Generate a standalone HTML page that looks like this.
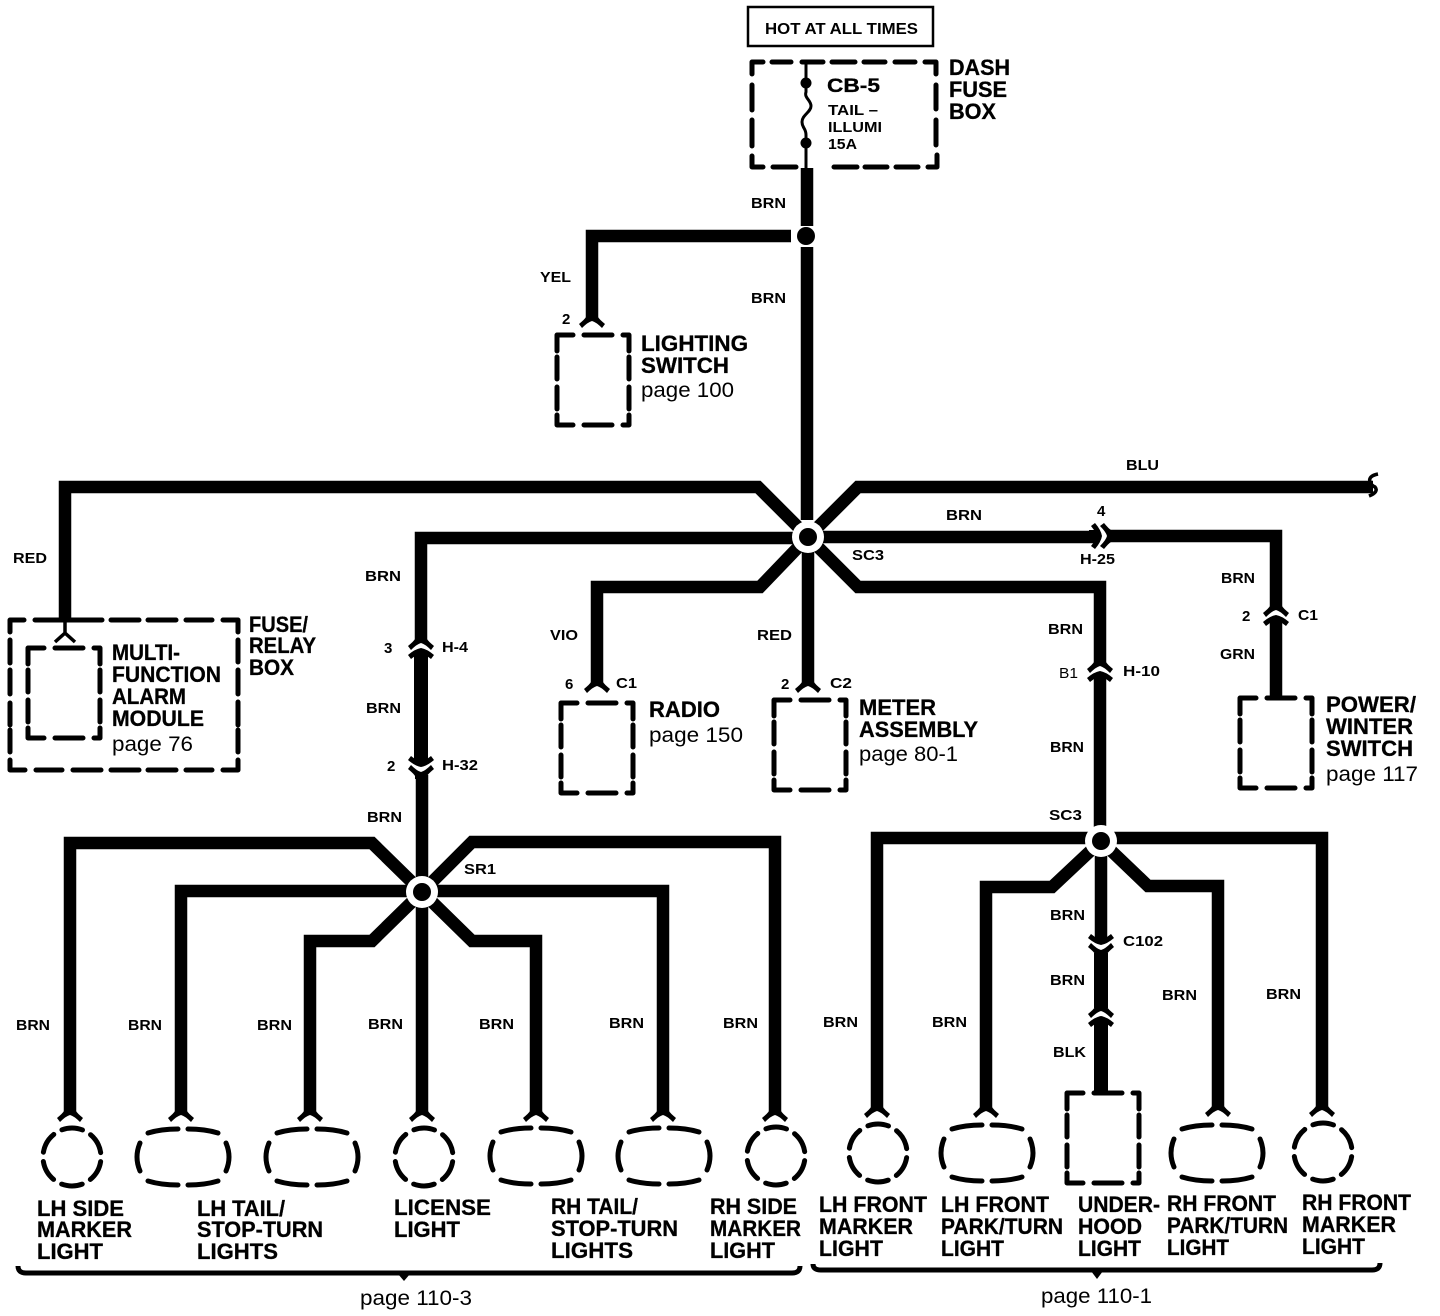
<!DOCTYPE html>
<html><head><meta charset="utf-8"><style>
html,body{margin:0;padding:0;background:#fff}
svg{display:block}
text{font-family:"Liberation Sans",sans-serif;fill:#000;stroke:none}
.b{font-weight:bold;font-size:22px;stroke:#000;stroke-width:.3px}
.s{font-weight:bold;font-size:15px}
.p{font-size:21px}
.w{fill:none;stroke:#000;stroke-width:12.5}
.d{fill:none;stroke:#000;stroke-width:5;stroke-linecap:round;stroke-linejoin:round}
</style></head><body>
<svg xmlns="http://www.w3.org/2000/svg" width="1440" height="1316" viewBox="0 0 1440 1316">
<defs>
<path id="box" class="d" d="M0 16V0H16M27 0H55M66 0H72V16M0 22V44M0 52V74M0 80V90H16M27 90H55M66 90H72V80M72 52V74M72 22V44"/>
<path id="arch" d="M-6 -4H6V-1Q7 1 13 6L10 10Q4 4 0 3Q-4 4 -10 10L-13 6Q-7 1 -6 -1Z"/>
<path id="up" d="M0 0Q6 1 13 7L10 11L6 8V13H-6V8L-10 11L-13 7Q-6 1 0 0Z"/>
<circle id="lamp" class="d" r="29" stroke-dasharray="21 9.37" stroke-dashoffset="25.7"/>
<path id="oval" class="d" d="M-35 -24Q-22 -28 -5 -28M5 -28Q22 -28 35 -24M-43 -14Q-49 0 -43 14M43 -14Q49 0 43 14M-35 24Q-22 28 -5 28M5 28Q22 28 35 24"/>
</defs>

<!-- top -->
<rect x="748" y="7" width="185" height="39" fill="none" stroke="#000" stroke-width="2.5"/>
<text class="s" x="765" y="34" textLength="153" lengthAdjust="spacingAndGlyphs" style="font-size:16px">HOT AT ALL TIMES</text>
<path class="d" d="M752 74V62H763M772 62H791M802 62H823M832 62H855M864 62H885M895 62H915M925 62H936V74M752 85V110M752 120V146M752 156V167H763M773 167H796M834 167H857M865 167H887M896 167H918M928 167H937V155M936 85V109M936 120V145"/>
<path d="M806 62V92C804 98 811 100 811 106C811 112 802 115 802 122C802 128 806 128 806 135V170" fill="none" stroke="#000" stroke-width="3"/>
<circle cx="806" cy="83" r="5.5"/><circle cx="806" cy="143" r="5.5"/>
<text class="b" x="827" y="92" textLength="53" lengthAdjust="spacingAndGlyphs" style="font-size:19px">CB-5</text>
<text class="s" x="828" y="115" textLength="50" lengthAdjust="spacingAndGlyphs">TAIL –</text>
<text class="s" x="828" y="132" textLength="54" lengthAdjust="spacingAndGlyphs">ILLUMI</text>
<text class="s" x="828" y="149" textLength="29" lengthAdjust="spacingAndGlyphs">15A</text>
<text class="b" x="949" y="75" textLength="61" lengthAdjust="spacingAndGlyphs">DASH</text>
<text class="b" x="949" y="97" textLength="58" lengthAdjust="spacingAndGlyphs">FUSE</text>
<text class="b" x="949" y="119" textLength="47" lengthAdjust="spacingAndGlyphs">BOX</text>

<!-- wires: upper -->
<path class="w" d="M807 168V226M807 247V520M791 236H592V318"/>
<circle cx="806" cy="236" r="9"/>
<text class="s" x="751" y="208" textLength="35" lengthAdjust="spacingAndGlyphs">BRN</text>
<text class="s" x="540" y="282" textLength="31" lengthAdjust="spacingAndGlyphs">YEL</text>
<text class="s" x="751" y="303" textLength="35" lengthAdjust="spacingAndGlyphs">BRN</text>
<text class="s" x="562" y="324">2</text>
<use href="#arch" x="592" y="318"/>
<use href="#box" x="557" y="335"/>
<text class="b" x="641" y="351" textLength="107" lengthAdjust="spacingAndGlyphs">LIGHTING</text>
<text class="b" x="641" y="373" textLength="88" lengthAdjust="spacingAndGlyphs">SWITCH</text>
<text class="p" x="641" y="397" textLength="93" lengthAdjust="spacingAndGlyphs">page 100</text>

<!-- SC3 star -->
<path class="w" d="M65 620V487H758L808 537"/>
<path class="w" d="M808 537L858 487H1373"/>
<path class="w" d="M808 538H421V640"/>
<path class="w" d="M808 537H1094"/>
<path class="w" d="M808 537L760 587H597V683"/>
<path class="w" d="M808 537V683"/>
<path class="w" d="M808 537L858 587H1100V663"/>
<circle cx="808" cy="537" r="16" fill="#fff"/><circle cx="808" cy="537" r="9"/>
<path d="M1378 474Q1368 476 1370 482Q1371 485 1375 487Q1379 492 1369 496" fill="none" stroke="#000" stroke-width="3.5"/>
<text class="s" x="1126" y="470" textLength="33" lengthAdjust="spacingAndGlyphs">BLU</text>
<text class="s" x="946" y="520" textLength="36" lengthAdjust="spacingAndGlyphs">BRN</text>
<text class="s" x="852" y="560" textLength="32" lengthAdjust="spacingAndGlyphs">SC3</text>
<text class="s" x="13" y="563" textLength="34" lengthAdjust="spacingAndGlyphs">RED</text>

<!-- fuse/relay box -->
<path class="d" d="M10 632V620H24M35 620H102M111 620H139M148 620H176M186 620H212M223 620H238V632M10 640V663M10 670V694M10 703V725M10 730V752M10 760V770H25M36 770H62M73 770H101M111 770H139M148 770H176M186 770H212M223 770H238V760M238 640V662M238 670V694M238 702V725M238 730V752"/>
<path d="M65 618V633M65 633L55 642M65 633L75 642" fill="none" stroke="#000" stroke-width="3.5"/>
<use href="#box" x="28" y="648"/>
<text class="b" x="249" y="632" textLength="59" lengthAdjust="spacingAndGlyphs">FUSE/</text>
<text class="b" x="249" y="653" textLength="67" lengthAdjust="spacingAndGlyphs">RELAY</text>
<text class="b" x="249" y="675" textLength="45" lengthAdjust="spacingAndGlyphs">BOX</text>
<text class="b" x="112" y="660" textLength="68" lengthAdjust="spacingAndGlyphs">MULTI-</text>
<text class="b" x="112" y="682" textLength="109" lengthAdjust="spacingAndGlyphs">FUNCTION</text>
<text class="b" x="112" y="704" textLength="74" lengthAdjust="spacingAndGlyphs">ALARM</text>
<text class="b" x="112" y="726" textLength="92" lengthAdjust="spacingAndGlyphs">MODULE</text>
<text class="p" x="112" y="751" textLength="81" lengthAdjust="spacingAndGlyphs">page 76</text>

<!-- H-4 H-32 column -->
<text class="s" x="365" y="581" textLength="36" lengthAdjust="spacingAndGlyphs">BRN</text>
<use href="#arch" x="421" y="640"/>
<use href="#up" x="421" y="648"/>
<path class="w" d="M421 655V760" style="stroke-width:14"/>
<use href="#up" transform="translate(421 767) scale(1 -1)"/>
<use href="#arch" transform="translate(421 775) scale(1 -1)"/>
<path class="w" d="M422 775V891"/>
<text class="s" x="384" y="653">3</text>
<text class="s" x="442" y="652" textLength="26" lengthAdjust="spacingAndGlyphs">H-4</text>
<text class="s" x="366" y="713" textLength="35" lengthAdjust="spacingAndGlyphs">BRN</text>
<text class="s" x="387" y="771">2</text>
<text class="s" x="442" y="770" textLength="36" lengthAdjust="spacingAndGlyphs">H-32</text>
<text class="s" x="367" y="822" textLength="35" lengthAdjust="spacingAndGlyphs">BRN</text>

<!-- Radio, Meter -->
<use href="#arch" x="597" y="683"/>
<use href="#box" x="561" y="703"/>
<text class="s" x="550" y="640" textLength="28" lengthAdjust="spacingAndGlyphs">VIO</text>
<text class="s" x="565" y="689">6</text>
<text class="s" x="616" y="688" textLength="21" lengthAdjust="spacingAndGlyphs">C1</text>
<text class="b" x="649" y="717" textLength="71" lengthAdjust="spacingAndGlyphs">RADIO</text>
<text class="p" x="649" y="742" textLength="94" lengthAdjust="spacingAndGlyphs">page 150</text>
<use href="#arch" x="808" y="683"/>
<use href="#box" x="774" y="700"/>
<text class="s" x="757" y="640" textLength="35" lengthAdjust="spacingAndGlyphs">RED</text>
<text class="s" x="781" y="689">2</text>
<text class="s" x="830" y="688" textLength="22" lengthAdjust="spacingAndGlyphs">C2</text>
<text class="b" x="859" y="715" textLength="77" lengthAdjust="spacingAndGlyphs">METER</text>
<text class="b" x="859" y="737" textLength="119" lengthAdjust="spacingAndGlyphs">ASSEMBLY</text>
<text class="p" x="859" y="761" textLength="99" lengthAdjust="spacingAndGlyphs">page 80-1</text>

<!-- H-25, power switch -->
<use href="#up" transform="translate(1102 536) rotate(90)"/>
<use href="#arch" transform="translate(1110 536) rotate(90)"/>
<path class="w" d="M1110 536H1276V607"/>
<text class="s" x="1097" y="516">4</text>
<text class="s" x="1080" y="564" textLength="35" lengthAdjust="spacingAndGlyphs">H-25</text>
<use href="#arch" x="1276" y="607"/>
<use href="#up" x="1276" y="615"/>
<path class="w" d="M1276 621V698"/>
<use href="#box" x="1240" y="698"/>
<text class="s" x="1221" y="583" textLength="34" lengthAdjust="spacingAndGlyphs">BRN</text>
<text class="s" x="1242" y="621">2</text>
<text class="s" x="1298" y="620" textLength="20" lengthAdjust="spacingAndGlyphs">C1</text>
<text class="s" x="1220" y="659" textLength="35" lengthAdjust="spacingAndGlyphs">GRN</text>
<text class="b" x="1326" y="712" textLength="90" lengthAdjust="spacingAndGlyphs">POWER/</text>
<text class="b" x="1326" y="734" textLength="87" lengthAdjust="spacingAndGlyphs">WINTER</text>
<text class="b" x="1326" y="756" textLength="87" lengthAdjust="spacingAndGlyphs">SWITCH</text>
<text class="p" x="1326" y="781" textLength="92" lengthAdjust="spacingAndGlyphs">page 117</text>

<!-- H-10 column -->
<use href="#arch" x="1100" y="663"/>
<use href="#up" x="1100" y="671"/>
<path class="w" d="M1100 677V841"/>
<text class="s" x="1048" y="634" textLength="35" lengthAdjust="spacingAndGlyphs">BRN</text>
<text class="s" x="1059" y="678" textLength="19" lengthAdjust="spacingAndGlyphs" style="font-weight:normal">B1</text>
<text class="s" x="1123" y="676" textLength="37" lengthAdjust="spacingAndGlyphs">H-10</text>
<text class="s" x="1050" y="752" textLength="34" lengthAdjust="spacingAndGlyphs">BRN</text>

<!-- SR1 star -->
<path class="w" d="M70 1112V843H372L422 892"/>
<path class="w" d="M422 892L472 842H775V1112"/>
<path class="w" d="M181 1112V891H663V1112"/>
<path class="w" d="M422 892L372 941H310V1112"/>
<path class="w" d="M422 892L472 941H536V1112"/>
<path class="w" d="M422 892V1112"/>
<circle cx="422" cy="892" r="16" fill="#fff"/><circle cx="422" cy="892" r="9"/>
<text class="s" x="464" y="874" textLength="32" lengthAdjust="spacingAndGlyphs">SR1</text>

<!-- SC3 lower star -->
<path class="w" d="M877 1108V838H1322V1107"/>
<path class="w" d="M1101 841L1052 887H986V1108"/>
<path class="w" d="M1101 841L1148 886H1218V1107"/>
<path class="w" d="M1101 841V940"/>
<circle cx="1101" cy="841" r="16" fill="#fff"/><circle cx="1101" cy="841" r="9"/>
<text class="s" x="1049" y="820" textLength="33" lengthAdjust="spacingAndGlyphs">SC3</text>
<use href="#up" transform="translate(1101 945) scale(1 -1)"/>
<use href="#arch" transform="translate(1101 953) scale(1 -1)"/>
<path class="w" d="M1101 953V1008" style="stroke-width:14"/>
<use href="#arch" x="1101" y="1008"/>
<use href="#up" x="1101" y="1016"/>
<path class="w" d="M1101 1023V1093" style="stroke-width:14"/>
<text class="s" x="1123" y="946" textLength="40" lengthAdjust="spacingAndGlyphs">C102</text>
<text class="s" x="1050" y="920" textLength="35" lengthAdjust="spacingAndGlyphs">BRN</text>
<text class="s" x="1050" y="985" textLength="35" lengthAdjust="spacingAndGlyphs">BRN</text>
<text class="s" x="1053" y="1057" textLength="33" lengthAdjust="spacingAndGlyphs">BLK</text>

<!-- bottom BRN -->
<text class="s" x="16" y="1030" textLength="34" lengthAdjust="spacingAndGlyphs">BRN</text>
<text class="s" x="128" y="1030" textLength="34" lengthAdjust="spacingAndGlyphs">BRN</text>
<text class="s" x="257" y="1030" textLength="35" lengthAdjust="spacingAndGlyphs">BRN</text>
<text class="s" x="368" y="1029" textLength="35" lengthAdjust="spacingAndGlyphs">BRN</text>
<text class="s" x="479" y="1029" textLength="35" lengthAdjust="spacingAndGlyphs">BRN</text>
<text class="s" x="609" y="1028" textLength="35" lengthAdjust="spacingAndGlyphs">BRN</text>
<text class="s" x="723" y="1028" textLength="35" lengthAdjust="spacingAndGlyphs">BRN</text>
<text class="s" x="823" y="1027" textLength="35" lengthAdjust="spacingAndGlyphs">BRN</text>
<text class="s" x="932" y="1027" textLength="35" lengthAdjust="spacingAndGlyphs">BRN</text>
<text class="s" x="1162" y="1000" textLength="35" lengthAdjust="spacingAndGlyphs">BRN</text>
<text class="s" x="1266" y="999" textLength="35" lengthAdjust="spacingAndGlyphs">BRN</text>

<!-- flares -->
<use href="#arch" x="70" y="1112"/><use href="#arch" x="181" y="1112"/><use href="#arch" x="310" y="1112"/><use href="#arch" x="422" y="1112"/><use href="#arch" x="536" y="1112"/><use href="#arch" x="663" y="1112"/><use href="#arch" x="775" y="1112"/>
<use href="#arch" x="877" y="1108"/><use href="#arch" x="986" y="1108"/><use href="#arch" x="1218" y="1107"/><use href="#arch" x="1322" y="1107"/>

<!-- lamps -->
<use href="#lamp" x="72" y="1157"/>
<use href="#oval" x="183" y="1157"/>
<use href="#oval" x="312" y="1157"/>
<use href="#lamp" x="424" y="1157"/>
<use href="#oval" x="536" y="1156"/>
<use href="#oval" x="664" y="1156"/>
<use href="#lamp" x="776" y="1156"/>
<use href="#lamp" x="878" y="1153"/>
<use href="#oval" x="987" y="1153"/>
<use href="#box" x="1067" y="1093"/>
<use href="#oval" x="1217" y="1153"/>
<use href="#lamp" x="1323" y="1152"/>

<!-- bottom labels -->
<text class="b" x="37" y="1216" textLength="87" lengthAdjust="spacingAndGlyphs">LH SIDE</text>
<text class="b" x="37" y="1237" textLength="95" lengthAdjust="spacingAndGlyphs">MARKER</text>
<text class="b" x="37" y="1259" textLength="66" lengthAdjust="spacingAndGlyphs">LIGHT</text>
<text class="b" x="197" y="1216" textLength="88" lengthAdjust="spacingAndGlyphs">LH TAIL/</text>
<text class="b" x="197" y="1237" textLength="126" lengthAdjust="spacingAndGlyphs">STOP-TURN</text>
<text class="b" x="197" y="1259" textLength="81" lengthAdjust="spacingAndGlyphs">LIGHTS</text>
<text class="b" x="394" y="1215" textLength="97" lengthAdjust="spacingAndGlyphs">LICENSE</text>
<text class="b" x="394" y="1237" textLength="66" lengthAdjust="spacingAndGlyphs">LIGHT</text>
<text class="b" x="551" y="1214" textLength="87" lengthAdjust="spacingAndGlyphs">RH TAIL/</text>
<text class="b" x="551" y="1236" textLength="127" lengthAdjust="spacingAndGlyphs">STOP-TURN</text>
<text class="b" x="551" y="1258" textLength="82" lengthAdjust="spacingAndGlyphs">LIGHTS</text>
<text class="b" x="710" y="1214" textLength="87" lengthAdjust="spacingAndGlyphs">RH SIDE</text>
<text class="b" x="710" y="1236" textLength="91" lengthAdjust="spacingAndGlyphs">MARKER</text>
<text class="b" x="710" y="1258" textLength="65" lengthAdjust="spacingAndGlyphs">LIGHT</text>
<text class="b" x="819" y="1212" textLength="108" lengthAdjust="spacingAndGlyphs">LH FRONT</text>
<text class="b" x="819" y="1234" textLength="94" lengthAdjust="spacingAndGlyphs">MARKER</text>
<text class="b" x="819" y="1256" textLength="64" lengthAdjust="spacingAndGlyphs">LIGHT</text>
<text class="b" x="941" y="1212" textLength="108" lengthAdjust="spacingAndGlyphs">LH FRONT</text>
<text class="b" x="941" y="1234" textLength="122" lengthAdjust="spacingAndGlyphs">PARK/TURN</text>
<text class="b" x="941" y="1256" textLength="63" lengthAdjust="spacingAndGlyphs">LIGHT</text>
<text class="b" x="1078" y="1212" textLength="82" lengthAdjust="spacingAndGlyphs">UNDER-</text>
<text class="b" x="1078" y="1234" textLength="64" lengthAdjust="spacingAndGlyphs">HOOD</text>
<text class="b" x="1078" y="1256" textLength="63" lengthAdjust="spacingAndGlyphs">LIGHT</text>
<text class="b" x="1167" y="1211" textLength="109" lengthAdjust="spacingAndGlyphs">RH FRONT</text>
<text class="b" x="1167" y="1233" textLength="121" lengthAdjust="spacingAndGlyphs">PARK/TURN</text>
<text class="b" x="1167" y="1255" textLength="62" lengthAdjust="spacingAndGlyphs">LIGHT</text>
<text class="b" x="1302" y="1210" textLength="109" lengthAdjust="spacingAndGlyphs">RH FRONT</text>
<text class="b" x="1302" y="1232" textLength="94" lengthAdjust="spacingAndGlyphs">MARKER</text>
<text class="b" x="1302" y="1254" textLength="63" lengthAdjust="spacingAndGlyphs">LIGHT</text>

<!-- braces -->
<path d="M18 1266Q18 1273 26 1273H792Q800 1273 800 1266" fill="none" stroke="#000" stroke-width="5"/>
<path d="M398 1274H410L404 1281Z"/>
<path d="M813 1264Q813 1270 821 1270H1372Q1380 1270 1380 1263" fill="none" stroke="#000" stroke-width="5"/>
<path d="M1091 1271H1103L1097 1279Z"/>
<text class="p" x="360" y="1305" textLength="112" lengthAdjust="spacingAndGlyphs">page 110-3</text>
<text class="p" x="1041" y="1303" textLength="111" lengthAdjust="spacingAndGlyphs">page 110-1</text>
</svg>
</body></html>
